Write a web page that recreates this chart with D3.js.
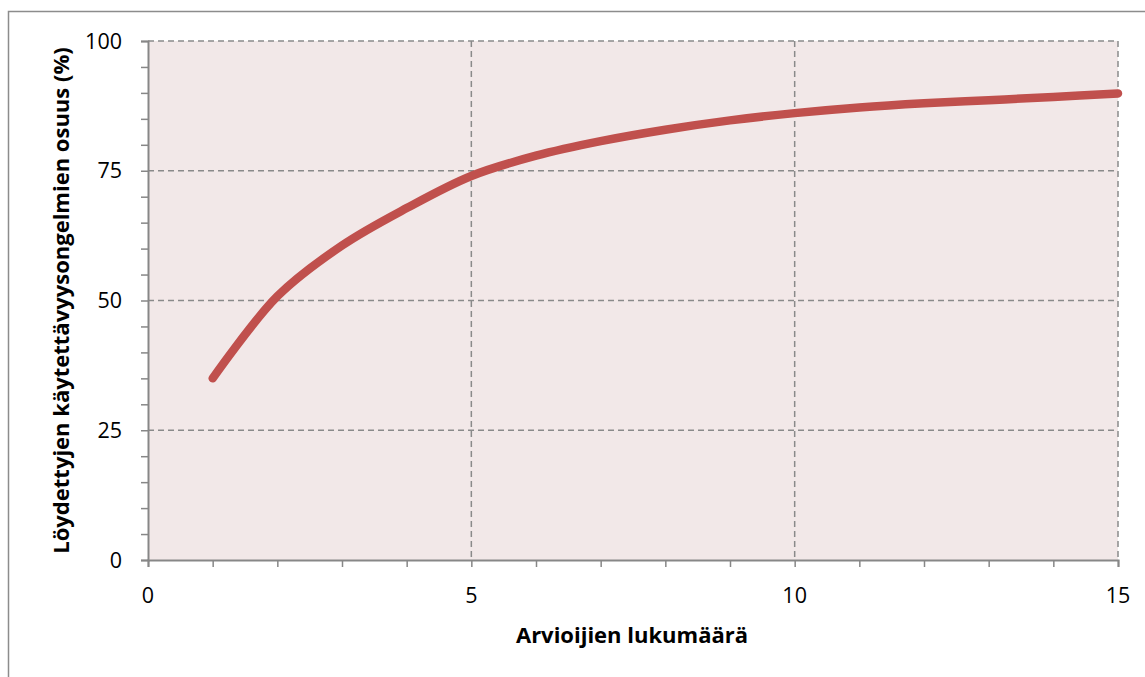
<!DOCTYPE html>
<html>
<head>
<meta charset="utf-8">
<script src="https://cdn.jsdelivr.net/npm/d3@7"></script>
<style>
  body { margin: 0; background: #fff; }
  svg { display: block; }
  text { font-family: "Open Sans", Lato, sans-serif; fill: #000; }
</style>
</head>
<body>
<div id="chart"></div>
<script>
// Arvioijien lukumäärä (x) ja löydettyjen ongelmien osuus (y, %)
const arvioijat = [1, 2, 3, 4, 5, 6, 7, 8, 9, 10, 11, 12, 13, 14, 15];
const osuus = [35, 50.8, 60.6, 67.8, 74, 77.9, 80.7, 82.9, 84.7, 86.1, 87.2, 88.0, 88.6, 89.2, 89.9];
const xTicks = [0, 5, 10, 15];
const yTicks = [0, 25, 50, 75, 100];

const W = 1145, H = 677;
const margin = {top: 41, right: 27, bottom: 117, left: 148};
const width = W - margin.left - margin.right,
      height = H - margin.top - margin.bottom;

const svg = d3.select("#chart").append("svg")
    .attr("width", W)
    .attr("height", H);

// ulkoreuna
svg.append("rect")
    .attr("x", 8.5).attr("y", 11.5)
    .attr("width", W).attr("height", H)
    .attr("fill", "none")
    .attr("stroke", "#8c8c8c")
    .attr("stroke-width", 1.5);

const g = svg.append("g")
    .attr("transform", `translate(${margin.left},${margin.top})`);

const x = d3.scaleLinear().domain([0, 15]).range([0, width]);
const y = d3.scaleLinear().domain([0, 100]).range([height, 0]);

// taustaväri
g.append("rect")
    .attr("width", width).attr("height", height)
    .attr("fill", "#f2e8e8");

// ruudukko
const grid = "#8a8a8a";
g.append("g").selectAll("line")
    .data(yTicks.filter(d => d > 0))
    .join("line")
    .attr("x1", 0).attr("x2", width)
    .attr("y1", d => y(d)).attr("y2", d => y(d))
    .attr("stroke", grid).attr("stroke-width", 1.5)
    .attr("stroke-dasharray", "6,4");
g.append("g").selectAll("line")
    .data(xTicks.filter(d => d > 0))
    .join("line")
    .attr("y1", 0).attr("y2", height)
    .attr("x1", d => x(d)).attr("x2", d => x(d))
    .attr("stroke", grid).attr("stroke-width", 1.5)
    .attr("stroke-dasharray", "6,4");

// akselit
const yAxis = g.append("g")
    .call(d3.axisLeft(y).tickValues(d3.range(0, 101, 5)).tickSize(7).tickFormat(""));
const xAxis = g.append("g")
    .attr("transform", `translate(0,${height})`)
    .call(d3.axisBottom(x).tickValues(d3.range(0, 16, 1)).tickSize(7).tickFormat(""));
[yAxis, xAxis].forEach(a => {
    a.select(".domain").attr("stroke", "#878787").attr("stroke-width", 2);
    a.selectAll(".tick line").attr("stroke", "#878787").attr("stroke-width", 1.5);
});

// tick-tekstit
g.append("g").selectAll("text")
    .data(yTicks)
    .join("text")
    .attr("x", -26)
    .attr("y", d => y(d))
    .attr("dy", "0.36em")
    .attr("text-anchor", "end")
    .style("font-size", "21.5px")
    .text(d => d);
g.append("g").selectAll("text")
    .data(xTicks)
    .join("text")
    .attr("x", d => x(d))
    .attr("y", height + 43)
    .attr("text-anchor", "middle")
    .style("font-size", "21.5px")
    .text(d => d);

// käyrä
const data = arvioijat.map((d, i) => ({x: d, y: osuus[i]}));
g.append("path")
    .datum(data)
    .attr("fill", "none")
    .attr("stroke", "#c0504d")
    .attr("stroke-width", 8.5)
    .attr("stroke-linecap", "round")
    .attr("d", d3.line()
        .x(d => x(d.x))
        .y(d => y(d.y))
        .curve(d3.curveCatmullRom.alpha(0.5)));

// akselien otsikot
svg.append("text")
    .attr("x", margin.left + width / 2 - 1)
    .attr("y", 643)
    .attr("text-anchor", "middle")
    .style("font-size", "22px")
    .style("font-weight", "bold")
    .text("Arvioijien lukumäärä");
svg.append("text")
    .attr("transform", `translate(69,${margin.top + height / 2}) rotate(-90)`)
    .attr("text-anchor", "middle")
    .style("font-size", "22px")
    .style("font-weight", "bold")
    .text("Löydettyjen käytettävyysongelmien osuus (%)");
</script>
</body>
</html>
